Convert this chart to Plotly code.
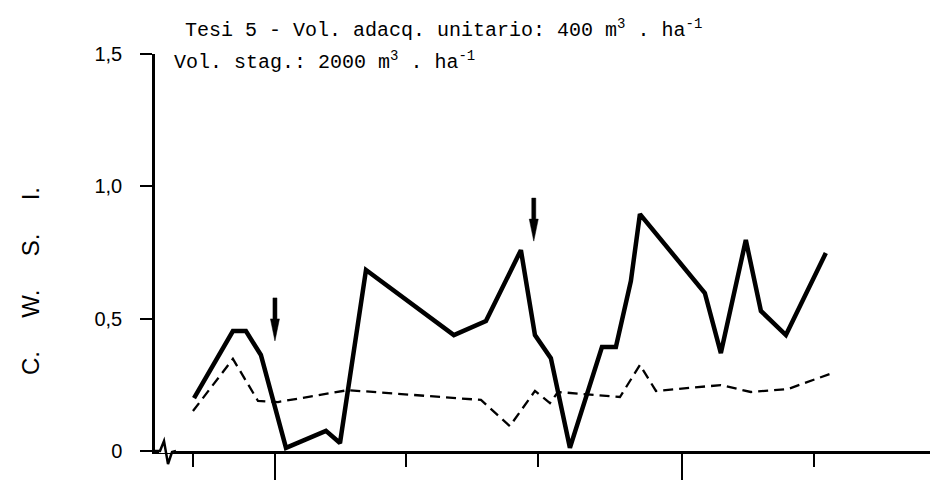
import plotly.graph_objects as go

# ---------------- data ----------------
# x = days (0 = first long tick), y = C.W.S.I.
solid_day = [-6.16, -3.2, -2.21, -1.07, 0.84, 3.88, 4.95, 6.93, 13.62, 16.06, 18.72,
             19.79, 21.0, 22.45, 24.89, 25.95, 27.09, 27.78, 32.72, 33.94, 35.84,
             36.99, 38.89, 41.93]
solid_cwsi = [0.200, 0.453, 0.453, 0.363, 0.012, 0.076, 0.030, 0.684, 0.438, 0.491, 0.759,
              0.438, 0.351, 0.012, 0.393, 0.393, 0.642, 0.895, 0.597, 0.370, 0.797,
              0.529, 0.438, 0.748]

dash_day = [-6.24, -3.2, -1.29, 0.23, 5.56, 15.68, 17.88, 19.79, 20.93, 21.54, 26.26,
            27.78, 29.0, 33.94, 36.22, 39.04, 42.24]
dash_cwsi = [0.151, 0.348, 0.189, 0.185, 0.230, 0.193, 0.094, 0.227, 0.181, 0.223, 0.204,
             0.325, 0.227, 0.249, 0.223, 0.234, 0.291]

# irrigation arrows (tip positions)
arrow_day = [0.0, 19.7]
arrow_cwsi = [0.416, 0.793]

y_tickvals = [0, 0.5, 1.0, 1.5]
y_ticktext = ["0", "0,5", "1,0", "1,5"]
x_major_ticks = [0, 31]
x_minor_ticks = [-6.2, 10, 20, 41, 51]

title_line1 = "Tesi 5 - Vol. adacq. unitario: 400 m<sup>3</sup> . ha<sup>-1</sup>"
title_line2 = "Vol. stag.: 2000 m<sup>3</sup> . ha<sup>-1</sup>"
NB = "\u00a0"
y_title = f"C.{NB*5}W.{NB*5}S.{NB*5}I."

# ---------------- layout geometry ----------------
W, H = 938, 480
ML, MR, MT, MB = 147, 1, 46, 37
XR = [-9.13, 51.0]
YR = [0, 1.5]
PW, PH = W - ML - MR, H - MT - MB
dx_px = (XR[1] - XR[0]) / PW
dy_px = (YR[1] - YR[0]) / PH


def px(xp):
    return (xp - ML) / PW


def py(yp):
    return (H - MB - yp) / PH


fig = go.Figure()
fig.add_trace(go.Scatter(x=dash_day, y=dash_cwsi, mode="lines",
                         line=dict(color="black", width=2.3, dash="10px,6px"),
                         showlegend=False, hoverinfo="skip"))
fig.add_trace(go.Scatter(x=solid_day, y=solid_cwsi, mode="lines",
                         line=dict(color="black", width=4.5),
                         showlegend=False, hoverinfo="skip"))

shapes = []
# arrows built from the tip positions
for xd, yd in zip(arrow_day, arrow_cwsi):
    hw = 4.5 * dx_px
    sw = 2.0 * dx_px
    head = 22 * dy_px
    top = 43 * dy_px
    path = (f"M {xd - sw},{yd + top} L {xd + sw},{yd + top} L {xd + sw},{yd + head} "
            f"L {xd + hw},{yd + head} L {xd},{yd} L {xd - hw},{yd + head} "
            f"L {xd - sw},{yd + head} Z")
    shapes.append(dict(type="path", xref="x", yref="y", path=path,
                       fillcolor="black", line=dict(color="black", width=0.5)))

# axis break symbol on the x axis
shapes.append(dict(type="line", xref="paper", yref="paper", x0=px(151), x1=px(166),
                   y0=py(443), y1=py(443), line=dict(color="white", width=4), layer="above"))
shapes.append(dict(type="path", xref="paper", yref="paper",
                   path=(f"M {px(146)},{py(443)} L {px(152)},{py(443)} L {px(156)},{py(433)} "
                         f"L {px(160)},{py(456)} L {px(164)},{py(444)} L {px(168)},{py(443)}"),
                   line=dict(color="black", width=2.5), layer="above"))

mono = "Liberation Mono, Courier New, monospace"
annotations = [
    dict(text=title_line1, xref="paper", yref="paper", x=px(175), y=py(21),
         xanchor="left", yanchor="middle", showarrow=False,
         font=dict(family=mono, size=20, color="black")),
    dict(text=title_line2, xref="paper", yref="paper", x=px(164), y=py(53),
         xanchor="left", yanchor="middle", showarrow=False,
         font=dict(family=mono, size=20, color="black")),
    dict(text=y_title, xref="paper", yref="paper", x=px(22), y=py(273),
         xanchor="center", yanchor="middle", showarrow=False, textangle=-90,
         font=dict(family="Liberation Sans, Arial, sans-serif", size=24, color="black")),
]

fig.update_layout(
    width=W, height=H, autosize=False,
    margin=dict(l=ML, r=MR, t=MT, b=MB, pad=0),
    paper_bgcolor="white", plot_bgcolor="white",
    shapes=shapes, annotations=annotations,
    xaxis=dict(range=XR, showline=True, linecolor="black", linewidth=2.5,
               showgrid=False, zeroline=False, showticklabels=False,
               tickmode="array", tickvals=x_major_ticks, ticks="outside",
               ticklen=34, tickwidth=2, tickcolor="black",
               minor=dict(tickmode="array", tickvals=x_minor_ticks, ticks="outside",
                          ticklen=13, tickwidth=2, tickcolor="black", showgrid=False)),
    yaxis=dict(range=YR, showline=True, linecolor="black", linewidth=2.5,
               showgrid=False, zeroline=False,
               tickmode="array", tickvals=y_tickvals, ticktext=y_ticktext,
               ticks="outside", ticklen=12, tickwidth=2, tickcolor="black",
               ticklabelstandoff=14,
               tickfont=dict(family="Liberation Sans, Arial, sans-serif", size=20, color="black")),
)

fig.write_html("out.html")
